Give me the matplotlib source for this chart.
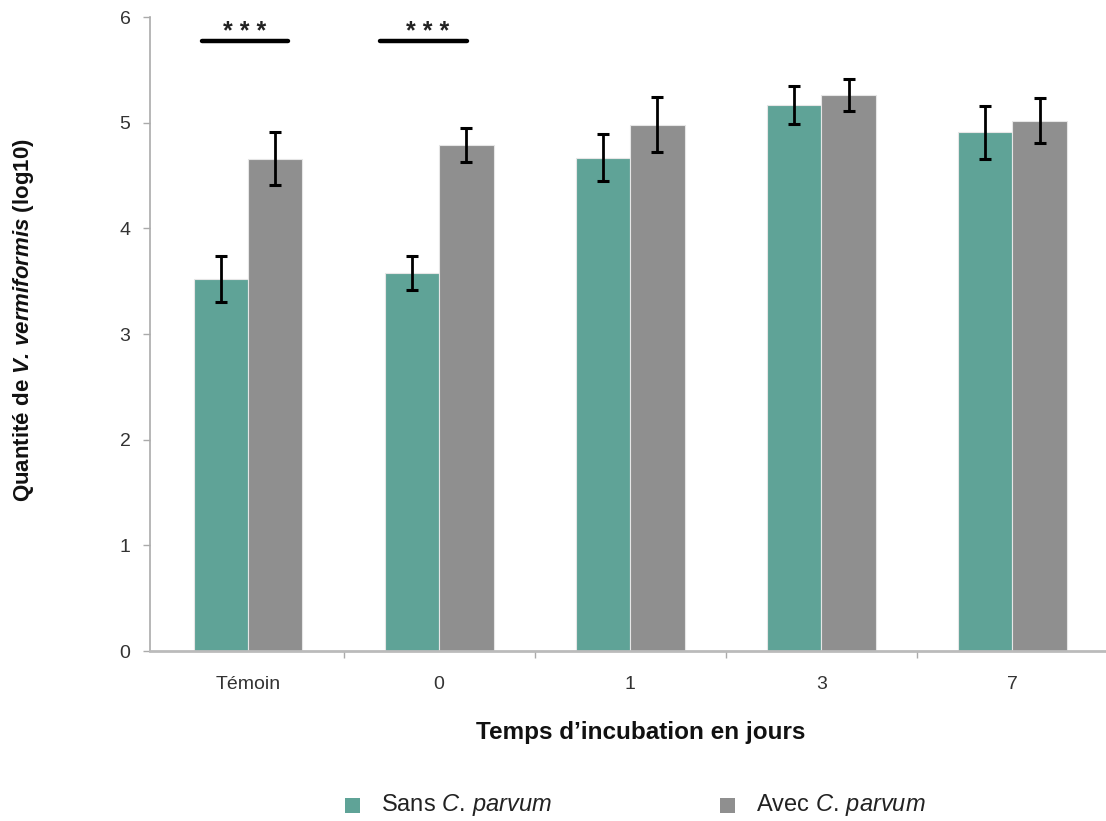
import matplotlib
matplotlib.use("Agg")
import matplotlib.pyplot as plt
import numpy as np
from matplotlib.patches import Rectangle

plt.rcParams['font.family'] = ['Liberation Sans', 'DejaVu Sans']
plt.rcParams['mathtext.fontset'] = 'custom'
plt.rcParams['mathtext.rm'] = 'Liberation Sans'
plt.rcParams['mathtext.it'] = 'Liberation Sans:italic'
plt.rcParams['mathtext.bf'] = 'Liberation Sans:bold:italic'

categories = ["Témoin", "0", "1", "3", "7"]
sans = [3.52, 3.58, 4.67, 5.17, 4.91]
sans_err = [0.22, 0.16, 0.22, 0.18, 0.25]
avec = [4.66, 4.79, 4.98, 5.26, 5.02]
avec_err = [0.25, 0.16, 0.26, 0.15, 0.21]
series_names = [r"Sans $\mathit{C.\,parvum}$", r"Avec $\mathit{C.\,parvum}$"]
signif_groups = [0, 1]
signif_label = "* * *"

teal = "#5fa397"
grey = "#8f8f8f"

W, H = 1106, 821
fig = plt.figure(figsize=(W / 100, H / 100), dpi=100)
ax = fig.add_axes([150 / W, 1 - 651 / H, (W - 150) / W, (651 - 17) / H])

x = np.arange(len(categories))
w = 0.285
ax.bar(x - w / 2, sans, width=w, color=teal, edgecolor="#e6e6e6", linewidth=0.8, zorder=2)
ax.bar(x + w / 2, avec, width=w, color=grey, edgecolor="#e6e6e6", linewidth=0.8, zorder=2)
ax.errorbar(x - w / 2, sans, yerr=sans_err, fmt="none", ecolor="black", elinewidth=2,
            capsize=4.2, capthick=2.2, zorder=3)
ax.errorbar(x + w / 2, avec, yerr=avec_err, fmt="none", ecolor="black", elinewidth=2,
            capsize=4.2, capthick=2.2, zorder=3)

# significance brackets (offsets relative to group centre)
sig_extent = [(-0.24, 0.21), (-0.31, 0.145)]
sig_star_off = [-0.02, -0.06]
for g, (a, b), so in zip(signif_groups, sig_extent, sig_star_off):
    ax.plot([g + a, g + b], [5.77, 5.77], color="black", lw=3.2, solid_capstyle="round", zorder=3)
    ax.text(g + so, 5.855, signif_label, ha="center", va="center", fontsize=18,
            fontweight="bold", color="#222222")

ax.set_xlim(-0.513, 4.49)
ax.set_ylim(0, 6)
ax.set_yticks(range(0, 7))
ax.set_yticklabels([str(v) for v in range(0, 7)])
ax.set_xticks(x)
ax.set_xticklabels(categories)
ax.set_xticks(np.arange(0.5, len(categories) - 0.5, 1), minor=True)
ax.tick_params(axis="x", which="major", length=0, pad=18, labelsize=14, colors="#333333")
ax.tick_params(axis="x", which="minor", length=5, width=1, color="#aaaaaa", direction="out")
ax.tick_params(axis="y", length=5, width=1, color="#aaaaaa", pad=9, labelsize=14, labelcolor="#333333")

for s in ["top", "right"]:
    ax.spines[s].set_visible(False)
ax.spines["left"].set_color("#aaaaaa")
ax.spines["bottom"].set_color("#bbbbbb")
ax.spines["bottom"].set_linewidth(2)
ax.spines["left"].set_linewidth(1.2)

fig.text(641 / W, 1 - 732 / H, "Temps d’incubation en jours", ha="center", va="center",
         fontsize=17.5, fontweight="bold", color="#111111")
fig.text(24 / W, 1 - 320 / H, r"Quantité de $\mathbf{V.\,vermiformis}$ (log10)", rotation=90,
         ha="center", va="center", fontsize=16, fontweight="bold", color="#111111")

# legend
leg_colors = [teal, grey]
leg_sq_x = [345, 720]
for name, col, sx in zip(series_names, leg_colors, leg_sq_x):
    fig.patches.append(Rectangle((sx / W, 1 - 813 / H), 15 / W, 15 / H, facecolor=col,
                                 edgecolor="none", transform=fig.transFigure, figure=fig))
    fig.text((sx + 36) / W, 1 - 805 / H, name, ha="left", va="center", fontsize=17, color="#222222")

fig.savefig("out.png", dpi=100)
